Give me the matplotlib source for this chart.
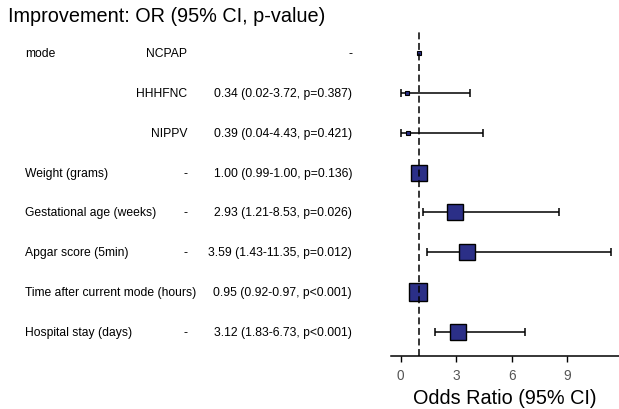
import matplotlib
matplotlib.use("Agg")
import matplotlib.pyplot as plt
import numpy as np
from matplotlib.transforms import blended_transform_factory

plt.rcParams['font.family'] = ['Liberation Sans', 'DejaVu Sans']
plt.rcParams['lines.scale_dashes'] = False

# ---- data ----
variables = ["mode", "", "", "Weight (grams)", "Gestational age (weeks)",
             "Apgar score (5min)", "Time after current mode (hours)", "Hospital stay (days)"]
levels = ["NCPAP", "HHHFNC", "NIPPV", "-", "-", "-", "", "-"]
odds_ratio = [1.00, 0.34, 0.39, 1.00, 2.93, 3.59, 0.95, 3.12]
ci_low = [np.nan, 0.02, 0.04, 0.99, 1.21, 1.43, 0.92, 1.83]
ci_high = [np.nan, 3.72, 4.43, 1.00, 8.53, 11.35, 0.97, 6.73]
p_values = ["", "=0.387", "=0.421", "=0.136", "=0.026", "=0.012", "<0.001", "<0.001"]
is_reference = [True, False, False, False, False, False, False, False]
x_ticks = [0, 3, 6, 9]

# ---- style ----
box_sizes = [3.0, 3.0, 3.0, 11.5, 12.2, 12.2, 12.4, 12.2]
box_color = "#2B2F87"

W, H = 619, 410
fig = plt.figure(figsize=(W / 100, H / 100), dpi=100)
ax = fig.add_axes([390.7 / W, 1 - 356.7 / H, (W - 390.7) / W, (356.7 - 30) / H])

n = len(variables)
rows = np.arange(n)
ax.set_xlim(-0.54, 11.79)
ax.set_ylim(7.59, -0.60)

# CI bars
for i in range(n):
    if not np.isnan(ci_low[i]):
        ax.errorbar(odds_ratio[i], rows[i],
                    xerr=[[odds_ratio[i] - ci_low[i]], [ci_high[i] - odds_ratio[i]]],
                    fmt='none', ecolor='black', elinewidth=1.1, capsize=2.6,
                    capthick=1.1, zorder=2)
# boxes
for i in range(n):
    ax.plot(odds_ratio[i], rows[i], marker='s', ms=box_sizes[i],
            mfc=box_color, mec='black', mew=1.0 if box_sizes[i] > 5 else 0.8,
            linestyle='none', zorder=3)

# reference line
ax.axvline(1, color='black', lw=1.1, dashes=(5, 2.6), zorder=4)

for s in ['top', 'right', 'left']:
    ax.spines[s].set_visible(False)
ax.spines['bottom'].set_linewidth(1.1)
ax.set_yticks([])
ax.set_xticks(x_ticks)
ax.set_xticklabels([str(t) for t in x_ticks])
ax.tick_params(axis='x', length=4.5, width=1.0, pad=4, labelsize=9.8,
               labelcolor='#555555', color='black')
ax.set_xlabel("Odds Ratio (95% CI)", fontsize=14.3, labelpad=4.5)
ax.patch.set_alpha(0)

# left-hand table
trans = blended_transform_factory(fig.transFigure, ax.transData)
fs = 8.7
for i in range(n):
    if variables[i]:
        fig.text(25 / W, rows[i], variables[i], transform=trans, fontsize=fs,
                 ha='left', va='center')
    if levels[i]:
        fig.text(187 / W, rows[i], levels[i], transform=trans, fontsize=fs,
                 ha='right', va='center')
    if is_reference[i]:
        est = "-"
    else:
        est = f"{odds_ratio[i]:.2f} ({ci_low[i]:.2f}-{ci_high[i]:.2f}, p{p_values[i]})"
    fig.text(352 / W, rows[i], est, transform=trans, fontsize=fs,
             ha='right', va='center')

fig.text(8 / W, 1 - 17 / H, "Improvement: OR (95% CI, p-value)", fontsize=14.3,
         ha='left', va='center')

fig.savefig("out.png", dpi=100)
